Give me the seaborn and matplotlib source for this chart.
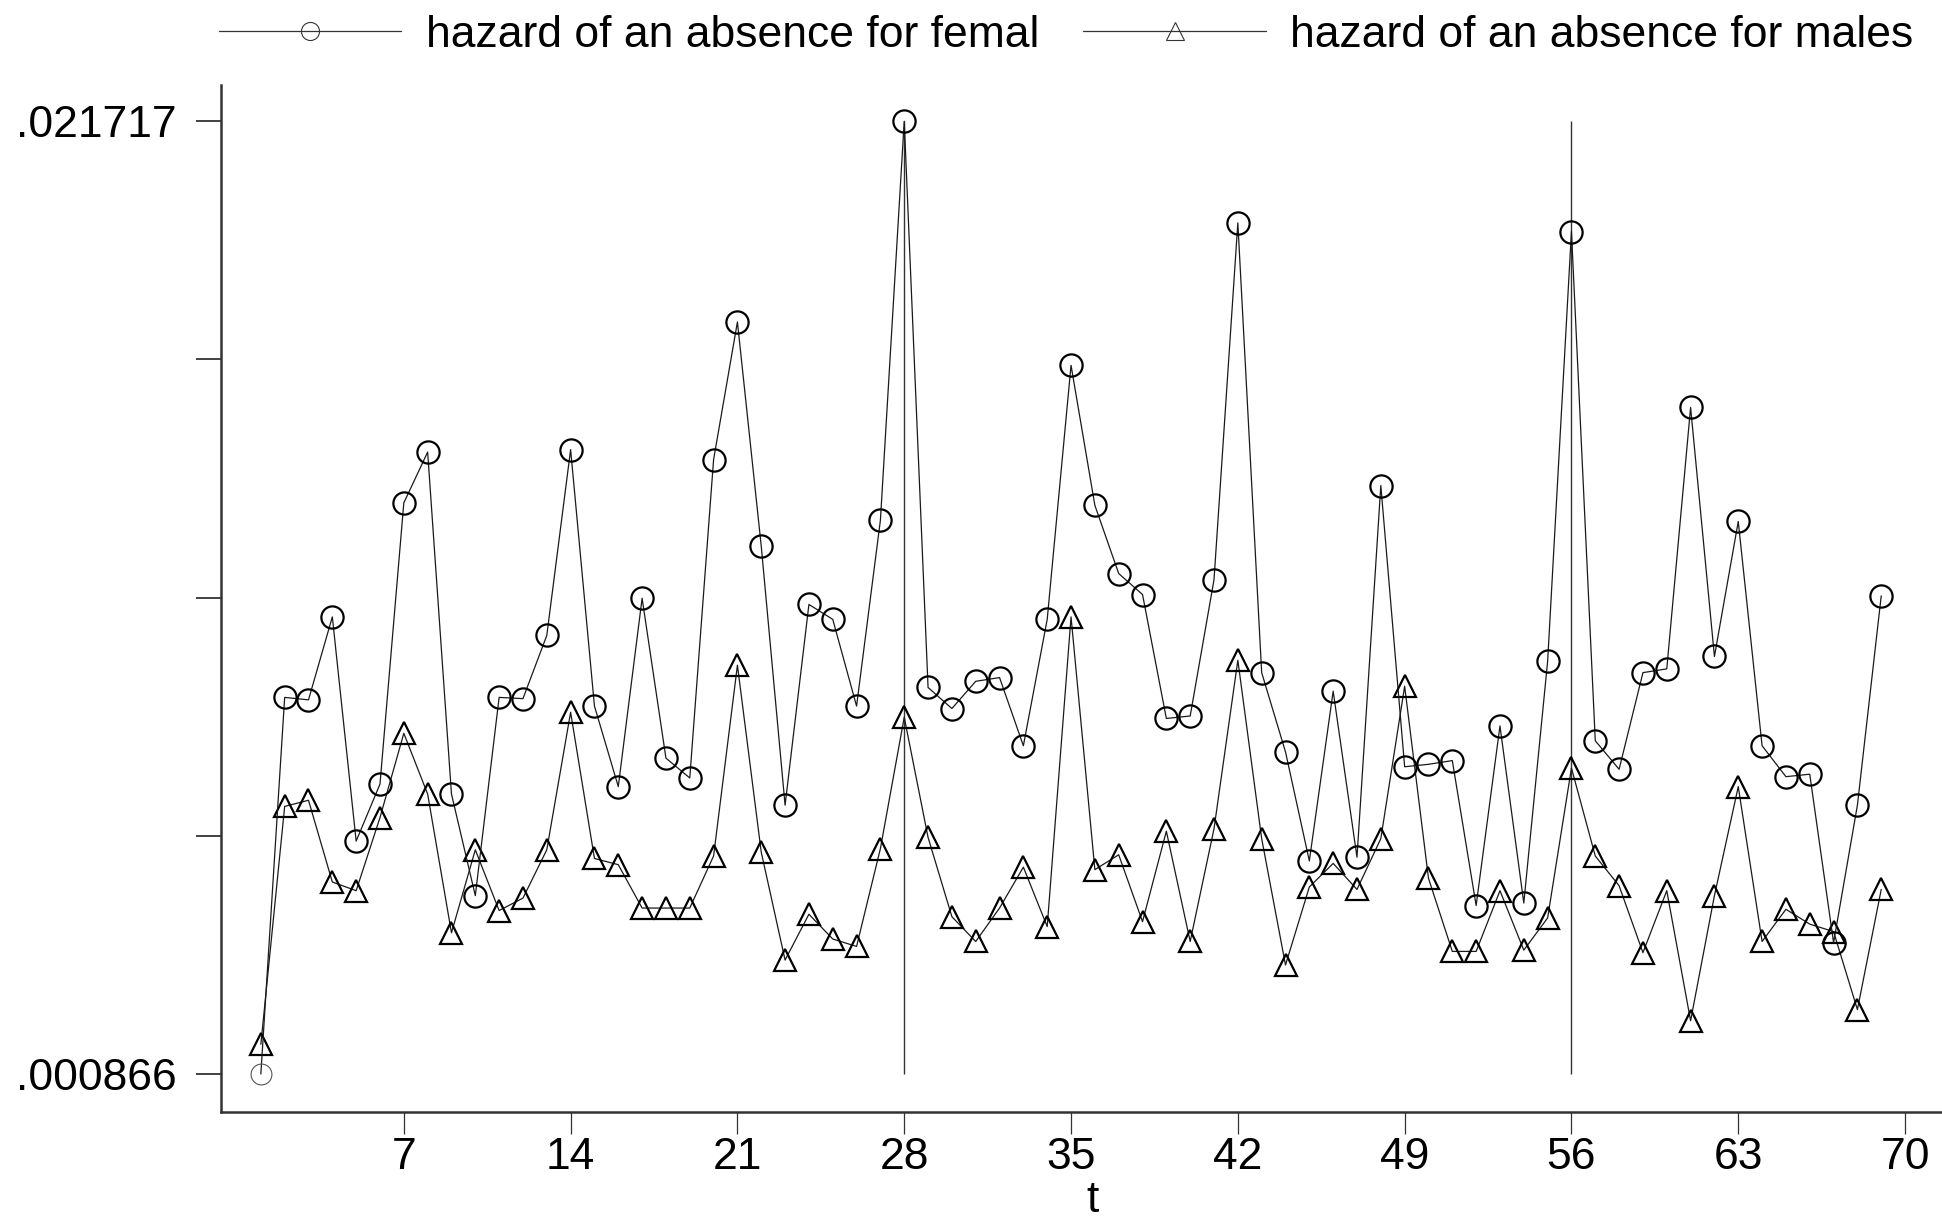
import matplotlib

matplotlib.use("Agg")

import matplotlib.pyplot as plt
import numpy as np
import pandas as pd
import seaborn as sns
from matplotlib.lines import Line2D

T = list(range(1, 70))

HAZARD_FEMALE = [
    0.000866, 0.009109, 0.009055, 0.010871, 0.005964, 0.007211, 0.013366, 0.014478,
    0.006994, 0.004771, 0.009109, 0.009082, 0.010465, 0.014532, 0.008919, 0.007157,
    0.011278, 0.007780, 0.007346, 0.014315, 0.017325, 0.012417, 0.006750, 0.011143,
    0.010817, 0.008919, 0.012986, 0.021717, 0.009326, 0.008865, 0.009461, 0.009543,
    0.008051, 0.010817, 0.016376, 0.013312, 0.011820, 0.011360, 0.008648, 0.008702,
    0.011685, 0.019494, 0.009651, 0.007916, 0.005530, 0.009245, 0.005611, 0.013746,
    0.007591, 0.007645, 0.007726, 0.004554, 0.008485, 0.004608, 0.009895, 0.019304,
    0.008160, 0.007536, 0.009651, 0.009733, 0.015454, 0.010004, 0.012959, 0.008051,
    0.007374, 0.007428, 0.003740, 0.006750, 0.011332,
]

HAZARD_MALE = [
    0.001517, 0.006723, 0.006858, 0.005069, 0.004879, 0.006479, 0.008323, 0.006994,
    0.003957, 0.005774, 0.004445, 0.004716, 0.005774, 0.008784, 0.005584, 0.005448,
    0.004499, 0.004499, 0.004499, 0.005638, 0.009814, 0.005720, 0.003361, 0.004364,
    0.003822, 0.003659, 0.005801, 0.008675, 0.006045, 0.004310, 0.003767, 0.004499,
    0.005394, 0.004093, 0.010871, 0.005340, 0.005665, 0.004201, 0.006181, 0.003767,
    0.006235, 0.009922, 0.006018, 0.003252, 0.004960, 0.005476, 0.004906, 0.006018,
    0.009353, 0.005150, 0.003550, 0.003550, 0.004879, 0.003578, 0.004282, 0.007563,
    0.005638, 0.004987, 0.003523, 0.004879, 0.002032, 0.004771, 0.007157, 0.003767,
    0.004472, 0.004147, 0.003984, 0.002276, 0.004906,
]

X_TICKS = [7, 14, 21, 28, 35, 42, 49, 56, 63, 70]
Y_MIN_LABEL = 0.000866
Y_MAX_LABEL = 0.021717
VLINE_T = [28, 56]

LEGEND_LABELS = [
    "hazard of an absence for femal",
    "hazard of an absence for males",
]

sns.set_theme(style="white")
plt.rcParams["font.family"] = ["Liberation Sans", "DejaVu Sans"]
plt.rcParams["text.color"] = "black"
plt.rcParams["xtick.color"] = "black"
plt.rcParams["ytick.color"] = "black"
plt.rcParams["axes.labelcolor"] = "black"

frame = pd.DataFrame({"t": T, "female": HAZARD_FEMALE, "male": HAZARD_MALE})

fig = plt.figure(figsize=(19.42, 12.18), dpi=100)
ax = fig.add_axes([0.1137, 0.087, 0.8863, 0.843])

line_kw = dict(color="#1a1a1a", linewidth=0.9, markersize=16,
               markerfacecolor="none", markeredgecolor="black", markeredgewidth=1.6)

ax.vlines(VLINE_T, Y_MIN_LABEL, Y_MAX_LABEL, color="#333333", linewidth=1.0, zorder=1)

sns.lineplot(data=frame, x="t", y="male", marker="^", ax=ax, zorder=3, **line_kw)
sns.lineplot(data=frame, x="t", y="female", marker="o", markevery=list(range(1, len(T))),
             ax=ax, zorder=3, **line_kw)
# first female point is drawn thinner in the original
ax.plot(frame["t"].iloc[:1], frame["female"].iloc[:1], marker="o", linestyle="none",
        markersize=15, markerfacecolor="none", markeredgecolor="#555555",
        markeredgewidth=0.8, zorder=3)

ax.set_xlim(-0.68, 71.55)
ax.set_ylim(0.000035, 0.022505)

y_ticks = np.linspace(Y_MIN_LABEL, Y_MAX_LABEL, 5)
ax.set_yticks(y_ticks)
ax.set_yticklabels([".000866", "", "", "", ".021717"])
ax.set_xticks(X_TICKS)
ax.set_xticklabels([str(v) for v in X_TICKS])

ax.tick_params(axis="y", direction="out", length=18, width=1.3, color="#333333",
               pad=14, labelsize=32, left=True, labelcolor="black")
ax.tick_params(axis="x", direction="out", length=16, width=0.9, color="#333333",
               pad=2, labelsize=32, bottom=True, labelcolor="black")

for side in ["top", "right"]:
    ax.spines[side].set_visible(False)
for side in ["left", "bottom"]:
    ax.spines[side].set_color("#333333")
    ax.spines[side].set_linewidth(1.8)

ax.set_xlabel("t", fontsize=32, color="black")
ax.xaxis.set_label_coords(0.5065, -0.066)
ax.set_ylabel("")
ax.grid(False)

handles = [
    Line2D([], [], color="#333333", linewidth=0.9, marker="o", markersize=13,
           markerfacecolor="none", markeredgecolor="#333333", markeredgewidth=0.8),
    Line2D([], [], color="#333333", linewidth=0.9, marker="^", markersize=13,
           markerfacecolor="none", markeredgecolor="#333333", markeredgewidth=0.8),
]
fig.legend(handles, LEGEND_LABELS, loc="center", bbox_to_anchor=(0.549, 0.971), ncol=2,
           frameon=False, fontsize=32, handlelength=4.1, handletextpad=0.55,
           columnspacing=1.0)

fig.savefig("out.png", dpi=100)
